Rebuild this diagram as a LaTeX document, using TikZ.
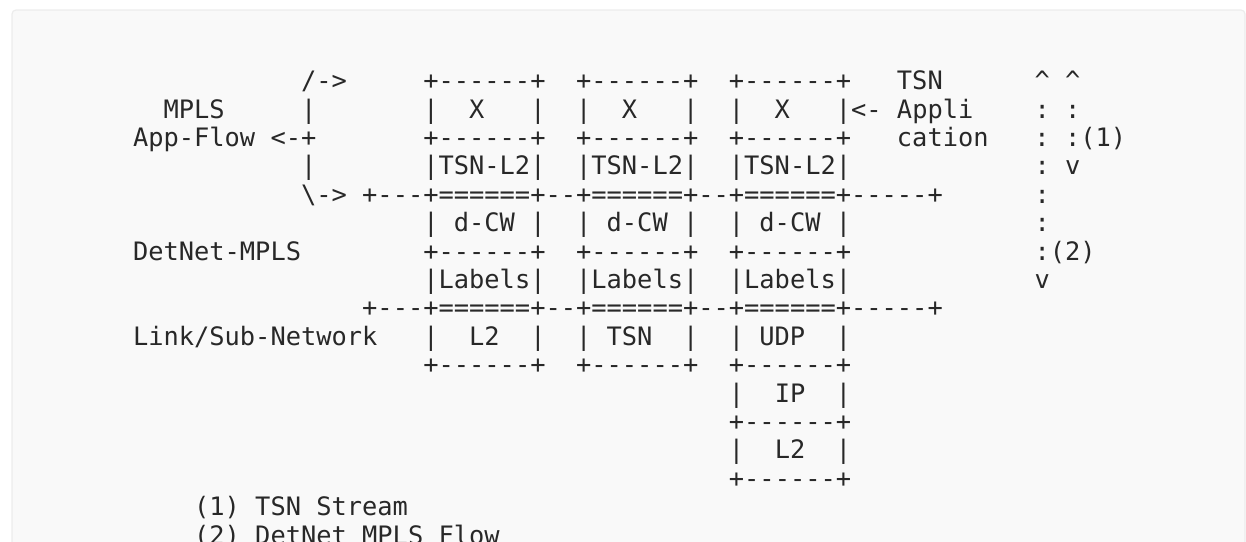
\documentclass[tikz,border=0pt]{standalone}
\usepackage{fontspec}
\setmonofont{DejaVu Sans Mono}
\usepackage{xcolor}
\usepackage{tikz}
\definecolor{figtext}{RGB}{40,40,40}
\definecolor{figpanel}{RGB}{249,249,249}
\definecolor{figedge}{RGB}{236,236,236}
{\obeyspaces\gdef {\ }}
\tikzset{
  panel/.style ={fill=figpanel, draw=figedge, line width=1.2pt, rounded corners=4pt},
  row/.style   ={font=\ttfamily\fontsize{25.38}{28.4}\selectfont, text=figtext, anchor=base west, inner sep=0pt,
                 execute at begin node=\obeyspaces},
}

\begin{document}
\begin{tikzpicture}[x=1pt,y=-1pt]
  \useasboundingbox (0,0) rectangle (1246,541);
  \draw[panel] (12,10) rectangle (1245,600);
  % one node per line of the figure, placed at its first column
  \node[row] (row0)  at (300.88,89.6)  {/->     +------+  +------+  +------+   TSN      \textasciicircum \textasciicircum};
  \node[row] (row1)  at (163.36,118.0) {MPLS     |       |  X   |  |  X   |  |  X   |<- Appli    : :};
  \node[row] (row2)  at (132.8,146.4)  {App-Flow <-+       +------+  +------+  +------+   cation   : :(1)};
  \node[row] (row3)  at (300.88,174.8) {|       |TSN-L2|  |TSN-L2|  |TSN-L2|            : v};
  \node[row] (row4)  at (300.88,203.2) {\textbackslash-> +---+======+--+======+--+======+-----+      :};
  \node[row] (row5)  at (423.12,231.6) {| d-CW |  | d-CW |  | d-CW |            :};
  \node[row] (row6)  at (132.8,260.0)  {DetNet-MPLS        +------+  +------+  +------+            :(2)};
  \node[row] (row7)  at (423.12,288.4) {|Labels|  |Labels|  |Labels|            v};
  \node[row] (row8)  at (362.0,316.8)  {+---+======+--+======+--+======+-----+};
  \node[row] (row9)  at (132.8,345.2)  {Link/Sub-Network   |  L2  |  | TSN  |  | UDP  |};
  \node[row] (row10) at (423.12,373.6) {+------+  +------+  +------+};
  \node[row] (row11) at (728.72,402.0) {|  IP  |};
  \node[row] (row12) at (728.72,430.4) {+------+};
  \node[row] (row13) at (728.72,458.8) {|  L2  |};
  \node[row] (row14) at (728.72,487.2) {+------+};
  \node[row] (row15) at (193.92,515.6) {(1) TSN Stream};
  \node[row] (row16) at (193.92,544.0) {(2) DetNet MPLS Flow};
\end{tikzpicture}
\end{document}
